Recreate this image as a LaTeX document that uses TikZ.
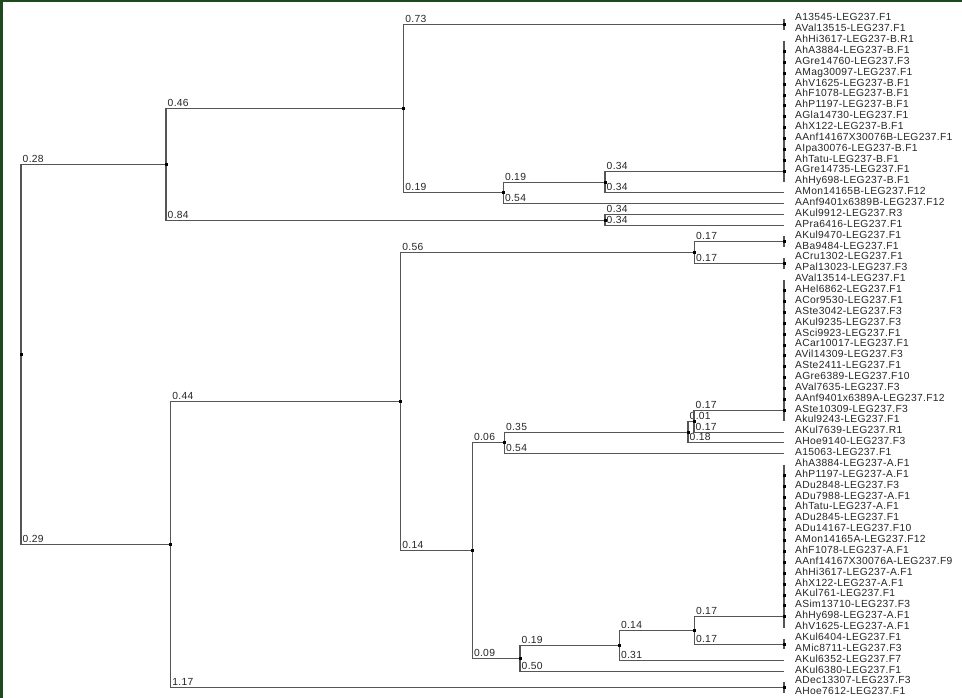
\documentclass[tikz,border=0pt]{standalone}
\usepackage{fontspec}
\setmainfont{Liberation Sans}
\newfontfamily\labfont[LetterSpace=3]{Liberation Sans}
\definecolor{lncol}{HTML}{555555}
\definecolor{txtcol}{HTML}{262626}
\definecolor{frame}{HTML}{1E4A20}
\begin{document}
\begin{tikzpicture}[x=1pt,y=-1pt,
  br/.style={draw=lncol,line width=1.05pt},
  blab/.style={anchor=base west,inner sep=0pt,xshift=1.2pt,yshift=2pt,font=\labfont\fontsize{10.3}{12}\selectfont,text=txtcol},
  leaf/.style={anchor=base west,inner sep=0pt,yshift=-1.8pt,font=\labfont\fontsize{10.3}{12}\selectfont,text=txtcol},
  dot/.style={fill=black,draw=none,minimum size=3pt,inner sep=0pt,rectangle}]
\useasboundingbox (0,0) rectangle (962,698);
\fill[white] (0,0) rectangle (962,698);
\fill[frame] (0,0) rectangle (3,698);
\fill[frame] (0,0) rectangle (962,2);
% leaves
\foreach \i/\t in {1/A13545-LEG237.F1,2/AVal13515-LEG237.F1,3/AhHi3617-LEG237-B.R1,4/AhA3884-LEG237-B.F1,5/AGre14760-LEG237.F3,6/AMag30097-LEG237.F1,7/AhV1625-LEG237-B.F1,8/AhF1078-LEG237-B.F1,9/AhP1197-LEG237-B.F1,10/AGla14730-LEG237.F1,11/AhX122-LEG237-B.F1,12/AAnf14167X30076B-LEG237.F1,13/AIpa30076-LEG237-B.F1,14/AhTatu-LEG237-B.F1,15/AGre14735-LEG237.F1,16/AhHy698-LEG237-B.F1,17/AMon14165B-LEG237.F12,18/AAnf9401x6389B-LEG237.F12,19/AKul9912-LEG237.R3,20/APra6416-LEG237.F1,21/AKul9470-LEG237.F1,22/ABa9484-LEG237.F1,23/ACru1302-LEG237.F1,24/APal13023-LEG237.F3,25/AVal13514-LEG237.F1,26/AHel6862-LEG237.F1,27/ACor9530-LEG237.F1,28/ASte3042-LEG237.F3,29/AKul9235-LEG237.F3,30/ASci9923-LEG237.F1,31/ACar10017-LEG237.F1,32/AVil14309-LEG237.F3,33/ASte2411-LEG237.F1,34/AGre6389-LEG237.F10,35/AVal7635-LEG237.F3,36/AAnf9401x6389A-LEG237.F12,37/ASte10309-LEG237.F3,38/Akul9243-LEG237.F1,39/AKul7639-LEG237.R1,40/AHoe9140-LEG237.F3,41/A15063-LEG237.F1,42/AhA3884-LEG237-A.F1,43/AhP1197-LEG237-A.F1,44/ADu2848-LEG237.F3,45/ADu7988-LEG237-A.F1,46/AhTatu-LEG237-A.F1,47/ADu2845-LEG237.F1,48/ADu14167-LEG237.F10,49/AMon14165A-LEG237.F12,50/AhF1078-LEG237-A.F1,51/AAnf14167X30076A-LEG237.F9,52/AhHi3617-LEG237-A.F1,53/AhX122-LEG237-A.F1,54/AKul761-LEG237.F1,55/ASim13710-LEG237.F3,56/AhHy698-LEG237-A.F1,57/AhV1625-LEG237-A.F1,58/AKul6404-LEG237.F1,59/AMic8711-LEG237.F3,60/AKul6352-LEG237.F7,61/AKul6380-LEG237.F1,62/ADec13307-LEG237.F3,63/AHoe7612-LEG237.F1}{
  \coordinate (b\i) at (784,{19+(\i-1)*10.87});
  \node[leaf] (l\i) at (795,{19+(\i-1)*10.87}) {\t};
}
% clade attach points
\coordinate (c12) at (784,24.43);
\coordinate (c2122) at (784,241.83);
\coordinate (c2324) at (784,263.58);
\coordinate (c5859) at (784,644.03);
\coordinate (c6263) at (784,687.5);
% internal nodes
\coordinate (r) at (21,354.49);
\coordinate (A) at (166,164.39);
\coordinate (B) at (403.7,108.68);
\coordinate (C) at (503.3,192.92);
\coordinate (D) at (605,182.05);
\coordinate (E) at (605,220.1);
\coordinate (F) at (170.7,544.58);
\coordinate (G) at (400.7,401.66);
\coordinate (H) at (694.3,252.7);
\coordinate (I) at (472.3,550.61);
\coordinate (J) at (504.3,442.93);
\coordinate (K) at (688,432.06);
\coordinate (L) at (694,421.19);
\coordinate (O) at (520,658.29);
\coordinate (N) at (619.3,645.39);
\coordinate (M) at (694.3,630.44);
% polytomy bars
\draw[br] (b1) -- (b2);
\draw[br] (b3) -- (b16);
\draw[br] (b21) -- (b22);
\draw[br] (b23) -- (b24);
\draw[br] (b25) -- (b38);
\draw[br] (b42) -- (b57);
\draw[br] (b58) -- (b59);
\draw[br] (b62) -- (b63);
% branches
\draw[br] (r) |- node[blab]{0.28} (A);
\draw[br] (r) |- node[blab]{0.29} (F);
\draw[br] (A) |- node[blab]{0.46} (B);
\draw[br] (A) |- node[blab]{0.84} (E);
\draw[br] (B) |- node[blab]{0.73} (c12);
\draw[br] (B) |- node[blab]{0.19} (C);
\draw[br] (C) |- node[blab]{0.19} (D);
\draw[br] (C) |- node[blab]{0.54} (b18);
\draw[br] (D) |- node[blab]{0.34} (b15);
\draw[br] (D) |- node[blab]{0.34} (b17);
\draw[br] (E) |- node[blab]{0.34} (b19);
\draw[br] (E) |- node[blab]{0.34} (b20);
\draw[br] (F) |- node[blab]{0.44} (G);
\draw[br] (F) |- node[blab]{1.17} (c6263);
\draw[br] (G) |- node[blab]{0.56} (H);
\draw[br] (G) |- node[blab]{0.14} (I);
\draw[br] (H) |- node[blab]{0.17} (c2122);
\draw[br] (H) |- node[blab]{0.17} (c2324);
\draw[br] (I) |- node[blab]{0.06} (J);
\draw[br] (I) |- node[blab]{0.09} (O);
\draw[br] (J) |- node[blab]{0.35} (K);
\draw[br] (J) |- node[blab]{0.54} (b41);
\draw[br] (K) |- node[blab]{0.01} (L);
\draw[br] (K) |- node[blab]{0.18} (b40);
\draw[br] (L) |- node[blab]{0.17} (b37);
\draw[br] (L) |- node[blab]{0.17} (b39);
\draw[br] (O) |- node[blab]{0.19} (N);
\draw[br] (O) |- node[blab]{0.50} (b61);
\draw[br] (N) |- node[blab]{0.14} (M);
\draw[br] (N) |- node[blab]{0.31} (b60);
\draw[br] (M) |- node[blab]{0.17} (b56);
\draw[br] (M) |- node[blab]{0.17} (c5859);
% node markers
\foreach \n in {r,A,B,C,D,E,F,G,H,I,J,K,L,M,N,O,c12,c2122,c2324,c5859,c6263}
  \node[dot] at (\n) {};
\foreach \i in {4,...,15,26,27,...,37,43,44,...,56}
  \node[dot] at (b\i) {};
\end{tikzpicture}
\end{document}
